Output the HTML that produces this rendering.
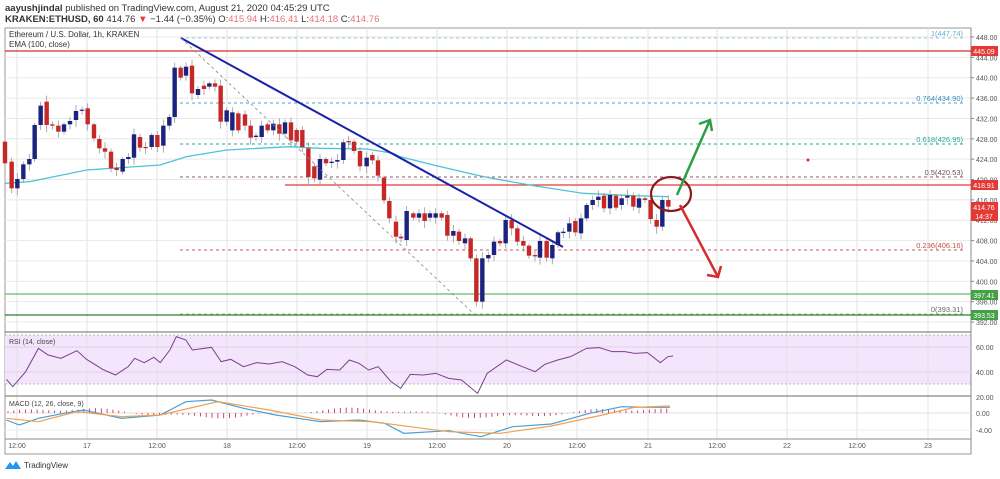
<!DOCTYPE html>
<html><head><meta charset="utf-8"><style>
body{margin:0;width:1000px;height:474px;background:#fff;overflow:hidden;font-family:"Liberation Sans",sans-serif}
</style></head><body>
<svg id="s" width="1000" height="474" xmlns="http://www.w3.org/2000/svg" font-family="Liberation Sans, sans-serif">
<text x="5" y="11" font-size="9.5" fill="#333"><tspan font-weight="bold">aayushjindal</tspan> published on TradingView.com, August 21, 2020 04:45:29 UTC</text>
<text x="5" y="22" font-size="9.5" fill="#333"><tspan font-weight="bold">KRAKEN:ETHUSD, 60</tspan> 414.76 <tspan fill="#e53935">▼</tspan> −1.44 (−0.35%) O:<tspan fill="#e57373">415.94</tspan> H:<tspan fill="#e57373">416.41</tspan> L:<tspan fill="#e57373">414.18</tspan> C:<tspan fill="#e57373">414.76</tspan></text>
<g id="g"></g>
</svg>
<script>
var g=document.getElementById('g'),NS='http://www.w3.org/2000/svg';
function el(t,a,txt){var e=document.createElementNS(NS,t);for(var k in a)e.setAttribute(k,a[k]);if(txt!==undefined)e.textContent=txt;g.appendChild(e);return e;}
function ln(x1,y1,x2,y2,c,w,d){var a={x1:x1,y1:y1,x2:x2,y2:y2,stroke:c,'stroke-width':w||1};if(d)a['stroke-dasharray']=d;return el('line',a);}
function pl(pts,c,w){return el('polyline',{points:pts.map(p=>p.join(',')).join(' '),fill:'none',stroke:c,'stroke-width':w||1});}
el('rect',{x:5,y:28,width:966,height:426,fill:'none',stroke:'#999','stroke-width':1});
el('rect',{x:5,y:335,width:966,height:49,fill:'#f3e5fb'});
[17,87,157,227,297,367,437,507,577,648,717,787,857,928].forEach(x=>ln(x,28,x,439,'#e3e3e3',1));
for(var p=448;p>=392;p-=4){var y=37+(448-p)*5.09;ln(5,y,971,y,'#e8e8e8',1);el('text',{x:976,y:y+3,'font-size':7,fill:'#555'},p.toFixed(2));ln(971,y,974,y,'#888',1);}
ln(5,332,971,332,'#888',1.2);ln(5,396,971,396,'#888',1.2);ln(5,439,971,439,'#888',1);ln(971,28,971,454,'#888',1);
ln(5,335,971,335,'#aaa',0.8,'2,2');ln(5,384,971,384,'#aaa',0.8,'2,2');ln(5,347,971,347,'#e0d0e8',1);ln(5,372,971,372,'#e0d0e8',1);
[[60,347],[40,372],[20,397]].forEach(a=>el('text',{x:976,y:a[1]+3,'font-size':7,fill:'#555'},a[0].toFixed(2)));
ln(5,413,971,413,'#e0e0e0',1);ln(5,430,971,430,'#eee',1);
el('text',{x:976,y:416,'font-size':7,fill:'#555'},'0.00');el('text',{x:976,y:433,'font-size':7,fill:'#555'},'-4.00');
[['12:00',17],['17',87],['12:00',157],['18',227],['12:00',297],['19',367],['12:00',437],['20',507],['12:00',577],['21',648],['12:00',717],['22',787],['12:00',857],['23',928]].forEach(a=>el('text',{x:a[1],y:448,'font-size':7,fill:'#555','text-anchor':'middle'},a[0]));
ln(180,38,965,38,'#9ecae1',1,'3,3');
ln(5,51,971,51,'#d32f2f',1.3);
ln(180,103,965,103,'#4fa3c7',1,'3,3');
ln(180,144,965,144,'#26a69a',1,'3,3');
ln(180,177,965,177,'#8d5a6a',1,'3,3');
ln(285,185,971,185,'#e53935',1.3);
ln(180,250,965,250,'#d35a5a',1,'3,3');
ln(5,294,971,294,'#66bb6a',1.3);
ln(180,314,965,314,'#81c784',1,'3,3');
ln(5,315,971,315,'#2e7d32',1.2);
[['1(447.74)',36,'#6aaed6'],['0.764(434.90)',101,'#3a8fbf'],['0.618(426.95)',142,'#26a69a'],['0.5(420.53)',175,'#6d4c5a'],['0.236(406.16)',248,'#c0504d'],['0(393.31)',312,'#666']].forEach(a=>el('text',{x:963,y:a[1],'font-size':7.5,fill:a[2],'text-anchor':'end'},a[0]));
var ema=[[15,475],[90,470],[260,435],[480,420],[560,395],[680,375],[870,365],[960,370],[1100,372],[1180,385]].map(p=>[p[0]/3,25+p[1]/3]).concat([[0,395],[100,420],[250,455],[400,482],[550,505],[700,512],[805,515]].map(p=>[400+p[0]/3,25+p[1]/3]));
pl(ema,'#4dc3d4',1.3);
var A=[[15,350,415,'r'],[35,410,490,'r'],[52,462,490,'b'],[70,418,462,'b'],[88,402,418,'b'],[104,300,402,'b'],[122,242,300,'b'],[140,230,300,'r'],[157,298,302,'r'],[175,302,320,'r'],[192,298,320,'b'],[210,288,298,'b'],[228,258,285,'b'],[246,254,257,'b'],[263,250,298,'r'],[282,298,340,'r'],[298,342,370,'r'],[315,370,380,'r'],[333,380,430,'r'],[350,428,435,'r'],[368,402,440,'b'],[385,396,402,'b'],[402,328,398,'b'],[420,336,368,'r'],[437,366,369,'r'],[455,330,366,'b'],[472,330,366,'r'],[490,302,362,'b'],[508,276,302,'b'],[524,128,276,'b'],[542,128,158,'r'],[558,125,152,'b'],[576,122,205,'r'],[594,192,210,'b'],[612,182,192,'r'],[628,175,185,'b'],[645,175,185,'r'],[662,182,290,'r'],[680,256,290,'b'],[697,262,316,'b'],[715,265,316,'r'],[735,268,302,'r'],[752,302,338,'r'],[768,332,336,'b'],[785,302,336,'b'],[803,298,316,'r'],[820,296,316,'b'],[838,298,326,'r'],[855,292,326,'b'],[873,292,346,'r'],[890,315,350,'r'],[907,315,366,'r'],[925,370,456,'r'],[943,424,460,'r'],[960,402,464,'b'],[978,402,415,'r'],[995,410,414,'b'],[1012,405,410,'b'],[1030,352,405,'b'],[1046,348,352,'r'],[1062,350,378,'r'],[1080,378,424,'r'],[1100,398,424,'b'],[1117,390,406,'r'],[1134,406,452,'r'],[1152,458,526,'r'],[1168,528,580,'r'],[1188,590,635,'r'],[1203,635,640,'r'],[1220,558,645,'b'],[1240,565,578,'r'],[1257,565,578,'b'],[1274,565,588,'r'],[1290,565,578,'b'],[1307,565,578,'b'],[1325,565,578,'r'],[1342,570,632,'r']].map(c=>[c[0]/3,25+c[1]/3,25+c[2]/3,c[3]]);
var B=[[160,618,632,'b'],[177,620,648,'r'],[195,640,655,'b'],[212,640,700,'r'],[229,700,830,'r'],[247,700,830,'b'],[265,690,700,'b'],[282,650,690,'b'],[300,648,655,'r'],[317,585,655,'b'],[335,585,610,'r'],[352,610,650,'r'],[370,648,662,'r'],[387,662,692,'r'],[405,690,694,'r'],[420,648,698,'b'],[440,648,698,'r'],[457,660,700,'b'],[474,622,660,'b'],[490,620,624,'b'],[508,595,620,'b'],[526,588,622,'r'],[543,580,625,'b'],[560,540,580,'b'],[578,525,540,'b'],[595,515,525,'b'],[612,512,550,'r'],[630,510,550,'b'],[648,512,548,'r'],[665,520,540,'b'],[682,512,518,'b'],[700,512,545,'r'],[717,520,548,'b'],[735,520,525,'r'],[752,525,582,'r'],[770,585,605,'r'],[787,525,605,'b'],[805,525,545,'r']].map(c=>[400+c[0]/3,25+c[1]/3,25+c[2]/3,c[3]]);
A.concat(B).forEach((c,i)=>{var col=c[3]=='r'?'#c62828':'#1a237e';var e=(i*7%5)+2;ln(c[0],c[1]-e,c[0],c[2]+e+1,'#999',0.8);el('rect',{x:c[0]-2.2,y:c[1],width:4.4,height:Math.max(1.2,c[2]-c[1]),fill:col});});
ln(181,38,563,247,'#1a23a8',2);
ln(181,38,475,315,'#888',0.8,'3,3');
el('ellipse',{cx:671,cy:194,rx:20,ry:17,fill:'none',stroke:'#8b1a1a','stroke-width':2.2});
ln(677,195,710,120,'#2e9e44',2.5);pl([[699,124],[710,120],[712,131]],'#2e9e44',2.5);
ln(680,205,718,277,'#d32f2f',2.5);pl([[707,275],[718,277],[721,266]],'#d32f2f',2.5);
el('circle',{cx:808,cy:160,r:1.5,fill:'#d32f2f'});
[['445.09',51,'#e53935'],['418.91',185,'#e53935'],['414.76',207,'#e53935'],['14:37',216,'#e53935'],['397.41',295,'#43a047'],['393.53',315,'#43a047']].forEach(a=>{el('rect',{x:971,y:a[1]-5,width:27,height:10,fill:a[2]});el('text',{x:984,y:a[1]+3,'font-size':7,fill:'#fff','text-anchor':'middle'},a[0]);});
el('text',{x:9,y:37,'font-size':8,fill:'#333'},'Ethereum / U.S. Dollar, 1h, KRAKEN');
el('text',{x:9,y:47,'font-size':8,fill:'#333'},'EMA (100, close)');
el('text',{x:9,y:344,'font-size':7,fill:'#444'},'RSI (14, close)');
el('text',{x:9,y:406,'font-size':7,fill:'#444'},'MACD (12, 26, close, 9)');
var k=1.56;
var rsi=[[10,178],[20,200],[40,155],[60,85],[75,105],[95,115],[120,92],[135,118],[160,148],[180,165],[200,140],[210,115],[225,128],[240,112],[250,128],[265,90],[275,50],[290,60],[300,90],[330,82],[345,125],[360,118],[380,140],[400,128],[420,132],[440,125],[460,140],[480,165],[495,170],[510,148],[530,150],[545,120],[560,130],[575,150],[590,140],[610,185],[625,205],[640,163],[660,165],[680,160],[700,175],[720,180],[745,220],[760,160],[790,120],[815,140],[835,155],[850,133],[870,120],[890,110],[915,85],[935,83],[955,95],[975,95],[990,100],[1010,98],[1030,128],[1042,110],[1050,108]].map(p=>[p[0]/k,320+p[1]/3]);
pl(rsi,'#7b3f8c',1);
for(var x=8;x<670;x+=5.83){var v=Math.sin(x/45)*4+Math.sin(x/13)*1.5;ln(x,413,x,413-v,'#c2185b',0.8);}
var mb=[[10,300],[30,315],[60,295],[100,280],[130,270],[190,295],[250,285],[290,245],[330,240],[380,265],[430,285],[500,305],[560,300],[600,310],[630,340],[700,332],[750,350],[800,320],[860,312],[920,280],[970,260],[1010,262],[1045,262]].map(p=>[p[0]/k,320+p[1]/3]);
var mo=[[10,295],[60,305],[120,275],[190,290],[250,285],[340,245],[420,270],[500,300],[580,305],[640,320],[700,335],[780,340],[860,318],[940,285],[990,262],[1045,258]].map(p=>[p[0]/k,320+p[1]/3]);
pl(mb,'#4a9fd4',1.2);pl(mo,'#f0a050',1.2);
el('path',{d:'M5 469 L10 462 L13 466 L16 461 L21 469 Z',fill:'#2196f3'});
el('text',{x:24,y:468,'font-size':8,fill:'#333'},'TradingView');
</script>
</body></html>
